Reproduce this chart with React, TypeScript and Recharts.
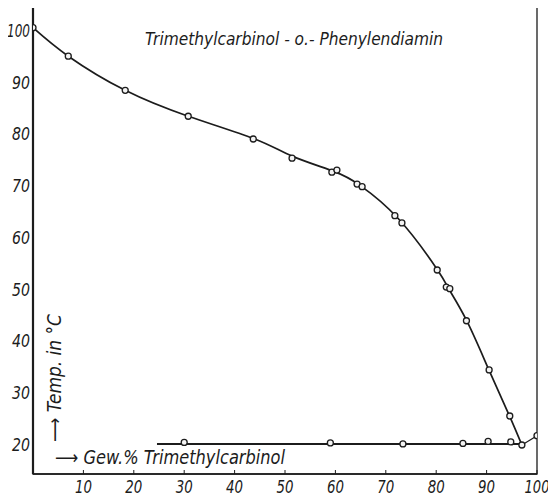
import React from 'react';
import {
  ComposedChart,
  Line,
  Scatter,
  XAxis,
  YAxis,
  ReferenceArea,
} from 'recharts';

// Liquidus curve of o-phenylenediamine (Gew.% Trimethylcarbinol, Temp °C)
const curveX = [0, 7, 18.3, 30.8, 44, 51.4, 59.8, 64.8, 72.5, 80.2, 82.4, 86, 90.5, 94.6, 97];
const curveY = [100.4, 94.9, 88.3, 83.3, 78.9, 75.6, 72.6, 70.0, 63.5, 53.7, 50.1, 43.9, 34.2, 25.3, 19.8];

// short branch from the eutectic to pure trimethylcarbinol
const tailX = [97, 100];
const tailY = [19.8, 21.6];

// eutectic horizontal
const eutX = [24.6, 97];
const eutY = [20, 20];

// measured points
const upperX = [0, 7, 18.3, 30.8, 43.7, 51.4, 59.3, 60.3, 64.3, 65.3, 71.8, 73.2, 80.2, 82, 82.7, 86, 90.5, 94.6, 97, 100];
const upperY = [100.4, 94.9, 88.3, 83.3, 78.9, 75.2, 72.5, 72.9, 70.2, 69.7, 64.1, 62.7, 53.6, 50.3, 50, 43.8, 34.3, 25.4, 19.8, 21.6];
const lowerX = [30, 59, 73.4, 85.3, 90.3, 94.8];
const lowerY = [20.3, 20.2, 20.0, 20.1, 20.5, 20.4];

const xTicks = [10, 20, 30, 40, 50, 60, 70, 80, 90, 100];
const yTicks = [20, 30, 40, 50, 60, 70, 80, 90, 100];

const zip = (xs: number[], ys: number[]) => xs.map((x, i) => ({ x, y: ys[i] }));
const curve = zip(curveX, curveY);
const tail = zip(tailX, tailY);
const eut = zip(eutX, eutY);
const upper = zip(upperX, upperY);
const lower = zip(lowerX, lowerY);

const INK = '#1c1c1c';
const FONT = '"Liberation Sans Narrow", "DejaVu Sans Condensed", "DejaVu Sans", sans-serif';
const Y_MIN = 14.2;
const Y_MAX = 104.4;

const XTick = (props: any) => {
  const { x, y, payload } = props;
  const w = String(payload.value).length === 3 ? 25 : 17;
  return (
    <g>
      <line x1={x} x2={x} y1={y} y2={y - 4} stroke={INK} strokeWidth={1} />
      <text
        x={x - w / 2}
        y={y + 19}
        textLength={w}
        lengthAdjust="spacingAndGlyphs"
        fontFamily={FONT}
        fontStyle="italic"
        fontSize={18}
        fill={INK}
      >
        {payload.value}
      </text>
    </g>
  );
};

const YTick = (props: any) => {
  const { x, y, payload } = props;
  const w = String(payload.value).length === 3 ? 23 : 18;
  return (
    <text
      x={x - 3 - w}
      y={y + 7}
      textLength={w}
      lengthAdjust="spacingAndGlyphs"
      fontFamily={FONT}
      fontStyle="italic"
      fontSize={18}
      fill={INK}
    >
      {payload.value}
    </text>
  );
};

const Dot = (props: any) => {
  const { cx, cy } = props;
  return <circle cx={cx} cy={cy} r={3} fill="#f4f4f4" stroke={INK} strokeWidth={1.3} />;
};

export default function App() {
  return (
    <div style={{ position: 'relative', width: 556, height: 498, margin: '-8px 0 0 -8px', background: '#fff' }}>
      <ComposedChart width={556} height={498} margin={{ top: 7, right: 19, bottom: 0, left: 0 }}>
        <XAxis
          type="number"
          dataKey="x"
          domain={[0, 100]}
          ticks={xTicks}
          tickSize={0}
          tickMargin={0}
          tick={<XTick />}
          height={24}
          axisLine={{ stroke: INK, strokeWidth: 1.6 }}
          allowDataOverflow
        />
        <YAxis
          type="number"
          dataKey="y"
          domain={[Y_MIN, Y_MAX]}
          ticks={yTicks}
          tickSize={0}
          tickMargin={0}
          tick={<YTick />}
          width={33}
          axisLine={{ stroke: INK, strokeWidth: 2.2 }}
          allowDataOverflow
        />
        <ReferenceArea x1={0} x2={100} y1={Y_MIN} y2={Y_MAX} fill="none" stroke={INK} strokeWidth={1.3} />
        <Line data={curve} dataKey="y" type="natural" stroke={INK} strokeWidth={1.7} dot={false} isAnimationActive={false} />
        <Line data={tail} dataKey="y" type="linear" stroke={INK} strokeWidth={1.2} dot={false} isAnimationActive={false} />
        <Line data={eut} dataKey="y" type="linear" stroke={INK} strokeWidth={2} dot={false} isAnimationActive={false} />
        <Scatter data={upper} dataKey="y" shape={<Dot />} isAnimationActive={false} />
        <Scatter data={lower} dataKey="y" shape={<Dot />} isAnimationActive={false} />
      </ComposedChart>
      <svg width={556} height={498} style={{ position: 'absolute', left: 0, top: 0, pointerEvents: 'none' }}>
        <text x={145} y={45} textLength={298} lengthAdjust="spacingAndGlyphs" fontFamily={FONT} fontStyle="italic" fontSize={18} fill={INK}>
          Trimethylcarbinol - o.- Phenylendiamin
        </text>
        <text x={55} y={464} fontFamily={FONT} fontStyle="italic" fontSize={19} fill={INK} textLength={230} lengthAdjust="spacingAndGlyphs">
          ⟶ Gew.% Trimethylcarbinol
        </text>
        <text
          transform="translate(61 442) rotate(-90)"
          fontFamily={FONT}
          fontStyle="italic"
          fontSize={19}
          fill={INK}
          textLength={128}
          lengthAdjust="spacingAndGlyphs"
        >
          ⟶ Temp. in °C
        </text>
      </svg>
    </div>
  );
}
